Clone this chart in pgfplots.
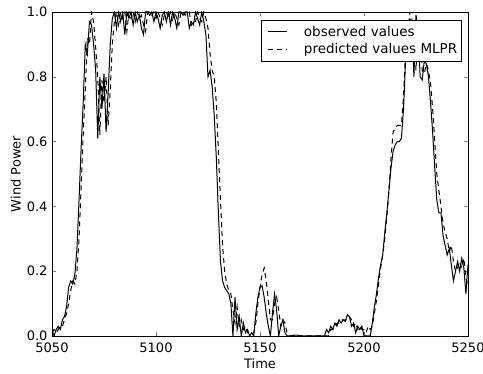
\documentclass[border=0pt]{standalone}
\usepackage{fontspec}
\setmainfont{DejaVu Sans}
\usepackage{pgfplots}
\usepackage{pgfplotstable}
\pgfplotsset{compat=1.18}
\pgfplotstableread{
t O P
5050 0.02 0.01
5051 0.00 0.02
5052 0.02 0.01
5053 0.03 0.02
5054 0.02 0.03
5055 0.05 0.03
5056 0.06 0.05
5057 0.09 0.07
5058 0.15 0.10
5059 0.17 0.14
5060 0.16 0.17
5061 0.19 0.16
5062 0.27 0.20
5063 0.42 0.30
5064 0.58 0.46
5065 0.72 0.62
5066 0.90 0.76
5067 0.87 0.92
5068 0.97 0.90
5069 0.96 1.00
5070 0.90 0.97
5071 0.82 0.89
5072 0.61 0.80
5073 0.80 0.62
5074 0.70 0.79
5075 0.81 0.72
5076 0.63 0.80
5077 0.75 0.65
5078 0.90 0.76
5079 0.98 0.90
5080 1.00 0.97
5081 0.95 1.00
5082 1.00 0.96
5083 0.97 1.00
5084 1.00 0.98
5085 0.93 1.00
5086 1.00 0.94
5087 0.98 1.00
5088 1.00 0.98
5089 0.96 1.00
5090 1.00 0.97
5091 0.97 1.00
5092 0.99 0.98
5093 0.95 0.99
5094 0.93 0.96
5095 1.00 0.94
5096 1.00 1.00
5097 0.99 1.00
5098 1.00 0.99
5099 0.97 1.00
5100 1.00 0.98
5101 0.98 1.00
5102 0.95 0.98
5103 0.99 0.96
5104 1.00 0.99
5105 0.97 1.00
5106 1.00 0.98
5107 0.96 1.00
5108 1.00 0.97
5109 0.98 1.00
5110 0.95 0.98
5111 1.00 0.96
5112 1.00 1.00
5113 0.99 1.00
5114 1.00 0.99
5115 1.00 1.00
5116 0.95 1.00
5117 0.97 0.96
5118 0.96 0.97
5119 1.00 0.97
5120 0.98 1.00
5121 0.96 0.98
5122 1.00 0.97
5123 0.97 1.00
5124 0.93 0.98
5125 0.80 0.95
5126 0.82 0.87
5127 0.77 0.82
5128 0.68 0.80
5129 0.55 0.72
5130 0.38 0.57
5131 0.23 0.42
5132 0.17 0.28
5133 0.15 0.20
5134 0.14 0.16
5135 0.13 0.14
5136 0.10 0.13
5137 0.00 0.08
5138 0.12 0.04
5139 0.02 0.09
5140 0.06 0.03
5141 0.00 0.05
5142 0.04 0.02
5143 0.01 0.03
5144 0.02 0.01
5145 0.00 0.01
5146 0.01 0.01
5147 0.00 0.01
5148 0.07 0.04
5149 0.12 0.10
5150 0.15 0.15
5151 0.155 0.19
5152 0.12 0.21
5153 0.07 0.17
5154 0.03 0.11
5155 0.00 0.05
5156 0.07 0.05
5157 0.13 0.10
5158 0.08 0.12
5159 0.00 0.08
5160 0.03 0.03
5161 0.05 0.05
5162 0.01 0.04
5163 0.00 0.01
5164 0.00 0.00
5165 0.00 0.00
5166 0.00 0.003
5167 0.003 0.003
5168 0.003 0.00
5169 0.00 0.00
5170 0.00 0.00
5171 0.00 0.00
5172 0.00 0.00
5173 0.00 0.00
5174 0.00 0.00
5175 0.00 0.00
5176 0.00 0.00
5177 0.00 0.00
5178 0.00 0.00
5179 0.00 0.00
5180 0.00 0.00
5181 0.00 0.00
5182 0.02 0.00
5183 0.01 0.00
5184 0.03 0.02
5185 0.02 0.02
5186 0.04 0.03
5187 0.03 0.04
5188 0.05 0.04
5189 0.04 0.05
5190 0.05 0.05
5191 0.045 0.05
5192 0.065 0.05
5193 0.06 0.06
5194 0.03 0.05
5195 0.04 0.03
5196 0.01 0.04
5197 0.03 0.02
5198 0.02 0.03
5199 0.03 0.02
5200 0.00 0.02
5201 0.00 0.01
5202 0.00 0.03
5203 0.00 0.02
5204 0.04 0.03
5205 0.09 0.07
5206 0.13 0.11
5207 0.18 0.16
5208 0.22 0.21
5209 0.25 0.25
5210 0.32 0.30
5211 0.38 0.37
5212 0.45 0.45
5213 0.52 0.55
5214 0.57 0.63
5215 0.59 0.64
5216 0.60 0.65
5217 0.60 0.65
5218 0.61 0.65
5219 0.70 0.74
5220 0.85 0.88
5221 0.97 0.92
5222 0.86 1.00
5223 0.98 0.90
5224 0.80 0.98
5225 0.99 0.82
5226 0.95 0.97
5227 0.80 0.95
5228 0.79 0.82
5229 0.85 0.81
5230 0.84 0.84
5231 0.80 0.82
5232 0.72 0.78
5233 0.63 0.70
5234 0.52 0.60
5235 0.42 0.50
5236 0.38 0.45
5237 0.38 0.40
5238 0.31 0.35
5239 0.28 0.32
5240 0.25 0.30
5241 0.27 0.26
5242 0.22 0.28
5243 0.17 0.23
5244 0.20 0.20
5245 0.23 0.21
5246 0.20 0.23
5247 0.24 0.21
5248 0.21 0.24
5249 0.13 0.18
5250 0.22 0.15
}\data
\begin{document}
\begin{tikzpicture}
\useasboundingbox (-52pt,-38pt) rectangle (431pt,336pt);
\begin{axis}[
  scale only axis,
  width=416pt, height=324pt,
  xmin=5050, xmax=5250, ymin=0, ymax=1,
  xtick={5050,5100,5150,5200,5250},
  ytick={0,0.2,0.4,0.6,0.8,1.0},
  yticklabel style={/pgf/number format/fixed,/pgf/number format/fixed zerofill,/pgf/number format/precision=1, xshift=-1pt},
  xticklabel style={/pgf/number format/1000 sep={}, yshift=-3pt},
  /pgf/number format/assume math mode=true,
  tick label style={font=\fontsize{13}{15}\selectfont},
  label style={font=\fontsize{13}{15}\selectfont},
  tick align=inside,
  major tick length=4pt,
  xlabel={Time}, ylabel={Wind Power},
  xlabel style={yshift=1pt},
  ylabel style={yshift=-1pt},
  axis line style={black, line width=0.8pt},
  legend style={at={(rel axis cs:0.9856,0.975)}, anchor=north east, font=\fontsize{13.5}{16}\selectfont, draw=black, line width=0.6pt, inner xsep=2pt, inner ysep=3pt, row sep=1pt,
    nodes={inner sep=2.5pt}},
  legend cell align=left,
  legend image post style={line width=1pt},
  legend image code/.code={\draw[#1] (5pt,0pt) -- (24pt,0pt); \path[draw=none] (0pt,0pt) (38pt,0pt);},
]
\addplot[black, line width=1pt] table[x=t, y=O] {\data};
\addlegendentry{observed values}
\addplot[black, line width=1pt, dash pattern=on 5pt off 4pt] table[x=t, y=P] {\data};
\addlegendentry{predicted values MLPR}
\end{axis}
\end{tikzpicture}
\end{document}
